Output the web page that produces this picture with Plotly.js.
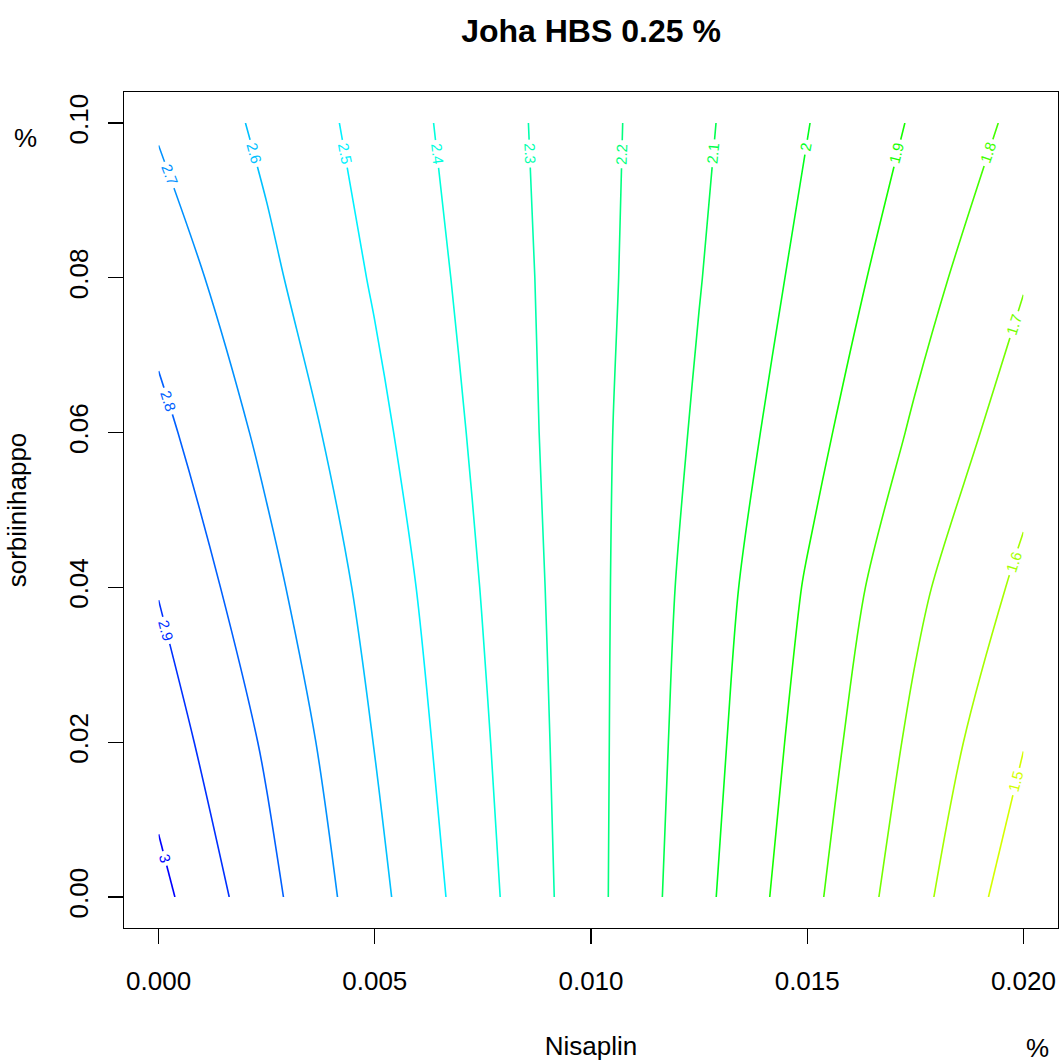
<!DOCTYPE html>
<html>
<head>
<meta charset="utf-8">
<script src="https://cdn.plot.ly/plotly-3.0.1.min.js"></script>
<style>html,body{margin:0;padding:0;background:#fff;}#chart{width:1062px;height:1064px;}</style>
</head>
<body>
<div id="chart"></div>
<script>
// Nisaplin (%) grid positions
const nisaplin = [0, 0.0025, 0.005, 0.0075, 0.01, 0.0125, 0.015, 0.0175, 0.02];
// sorbiinihappo (%) grid positions
const sorbiinihappo = [0, 0.02, 0.04, 0.06, 0.08, 0.1];
// response values, one row per sorbiinihappo value
const row000 = [3.030, 2.831, 2.631, 2.432, 2.232, 2.032, 1.830, 1.634, 1.436];
const row002 = [2.956, 2.786, 2.597, 2.413, 2.231, 2.048, 1.861, 1.677, 1.504];
const row004 = [2.895, 2.729, 2.565, 2.395, 2.230, 2.063, 1.891, 1.722, 1.576];
const row006 = [2.827, 2.676, 2.526, 2.377, 2.229, 2.085, 1.935, 1.786, 1.643];
const row008 = [2.759, 2.621, 2.490, 2.362, 2.233, 2.104, 1.973, 1.841, 1.707];
const row010 = [2.690, 2.578, 2.462, 2.348, 2.234, 2.118, 2.003, 1.889, 1.773];
const levelStart = 1.5, levelEnd = 3.0, levelStep = 0.1;
const xTicks = [0, 0.005, 0.01, 0.015, 0.02];
const yTicks = [0, 0.02, 0.04, 0.06, 0.08, 0.1];
// level colours from 1.5 (first) to 3.0 (last)
const levelColors = ['#D4FF00','#A4FF00','#74FF00','#44FF00','#14FF00','#00FF1C','#00FF4D','#00FF7D',
                     '#00FFAD','#00FFDD','#00F1FF','#00C1FF','#0091FF','#0060FF','#0030FF','#0000FF'];

const zGrid = [row000, row002, row004, row006, row008, row010];
const cscale = levelColors.map((c, i) => [i / (levelColors.length - 1), c]);
const font = 'Liberation Sans, Arial, Helvetica, sans-serif';

// axis ranges and plot size (pixels)
const X0 = -0.0008, X1 = 0.0208, Y0 = -0.004, Y1 = 0.104;
const M = {l: 124, r: 4, t: 92, b: 136};
const plotW = 1062 - M.l - M.r, plotH = 1064 - M.t - M.b;
const sx = plotW / (X1 - X0), sy = plotH / (Y1 - Y0);

// bilinear value of the grid (same linear model the contour uses)
function seg(arr, v) {
  let i = 0;
  while (i < arr.length - 2 && v > arr[i + 1]) i++;
  let t = (v - arr[i]) / (arr[i + 1] - arr[i]);
  t = Math.max(0, Math.min(1, t));
  return [i, t];
}
function zAt(x, y) {
  const [i, tx] = seg(nisaplin, x);
  const [j, ty] = seg(sorbiinihappo, y);
  const a = zGrid[j][i], b = zGrid[j][i + 1], c = zGrid[j + 1][i], d = zGrid[j + 1][i + 1];
  return (a * (1 - tx) + b * tx) * (1 - ty) + (c * (1 - tx) + d * tx) * ty;
}
// gradient in screen pixels (y downward)
function gradPx(x, y) {
  const hx = 1e-6, hy = 5e-6;
  const xa = Math.max(0, x - hx), xb = Math.min(0.02, x + hx);
  const ya = Math.max(0, y - hy), yb = Math.min(0.1, y + hy);
  const gx = (zAt(xb, y) - zAt(xa, y)) / (xb - xa) / sx;
  const gy = -(zAt(x, yb) - zAt(x, ya)) / (yb - ya) / sy;
  return [gx, gy];
}
function edgeCross(vals, coords, lev) {
  for (let k = 0; k < vals.length - 1; k++) {
    const a = vals[k], b = vals[k + 1];
    if (a !== b && (a - lev) * (b - lev) <= 0) return coords[k] + (lev - a) / (b - a) * (coords[k + 1] - coords[k]);
  }
  return null;
}
const col0 = zGrid.map(r => r[0]);
const colN = zGrid.map(r => r[r.length - 1]);

const labelSize = 15;
const labelAnn = [];
const nLev = Math.round((levelEnd - levelStart) / levelStep) + 1;
for (let k = 0; k < nLev; k++) {
  const lev = Math.round((levelStart + k * levelStep) * 10) / 10;
  let x, y;
  const tx = edgeCross(row010, nisaplin, lev);
  if (tx !== null) { x = tx; y = 0.1; }
  else {
    const ly = edgeCross(col0, sorbiinihappo, lev);
    const ry = edgeCross(colN, sorbiinihappo, lev);
    if (ly !== null) { x = 0; y = ly; } else if (ry !== null) { x = 0.02; y = ry; } else continue;
  }
  const text = String(lev);
  const half = 0.5 * labelSize * (text.replace('.', '').length * 0.556 + (text.includes('.') ? 0.278 : 0));
  const D = 20 + half;
  // march along the contour downward
  let px = (x - X0) * sx, py = (Y1 - y) * sy;
  let prev = null, tan = [0, 1];
  for (let s = 0; s < D; s++) {
    const xd = px / sx + X0, yd = Y1 - py / sy;
    const [gx, gy] = gradPx(xd, yd);
    const n = Math.hypot(gx, gy);
    let t = [-gy / n, gx / n];
    if (prev ? (t[0] * prev[0] + t[1] * prev[1] < 0) : t[1] < 0) t = [-t[0], -t[1]];
    prev = t; tan = t;
    px += t[0]; py += t[1];
    const xd2 = px / sx + X0, yd2 = Y1 - py / sy;
    const e = zAt(xd2, yd2) - lev;
    const [g2x, g2y] = gradPx(xd2, yd2);
    const g2 = g2x * g2x + g2y * g2y;
    px -= e * g2x / g2; py -= e * g2y / g2;
  }
  let ang = Math.atan2(tan[1], tan[0]) * 180 / Math.PI;
  if (ang > 90) ang -= 180;
  if (ang <= -90) ang += 180;
  labelAnn.push({
    x: px / sx + X0, y: Y1 - py / sy, xref: 'x', yref: 'y', text: text, textangle: ang,
    showarrow: false, xanchor: 'center', yanchor: 'middle', bgcolor: '#fff', borderpad: 3,
    font: {family: font, size: labelSize, color: levelColors[k]}
  });
}

const trace = {
  type: 'contour',
  x: nisaplin, y: sorbiinihappo, z: zGrid,
  zmin: levelStart, zmax: levelEnd,
  autocontour: false,
  contours: {start: levelStart, end: levelEnd, size: levelStep, coloring: 'lines', showlabels: false},
  colorscale: cscale, showscale: false,
  line: {width: 1.6, smoothing: 0.9},
  hoverinfo: 'skip'
};

const layout = {
  width: 1062, height: 1064,
  margin: M,
  paper_bgcolor: '#fff', plot_bgcolor: '#fff',
  font: {family: font, size: 26, color: '#000'},
  showlegend: false,
  title: {text: '<b>Joha HBS 0.25 %</b>', font: {family: font, size: 32, color: '#000'},
          x: 0.5, xref: 'paper', y: 1 - 31 / 1064, yref: 'container', yanchor: 'middle'},
  xaxis: {range: [X0, X1], tickvals: xTicks, tickformat: '.3f',
          showgrid: false, zeroline: false, showline: true, mirror: true, linecolor: '#000', linewidth: 1.3,
          ticks: 'outside', ticklen: 15, tickwidth: 1.3, tickcolor: '#000', ticklabelstandoff: 14,
          title: {text: 'Nisaplin', standoff: 42, font: {family: font, size: 26}}, automargin: false, fixedrange: true},
  yaxis: {range: [Y0, Y1], tickvals: yTicks, tickformat: '.2f', tickangle: -90,
          showgrid: false, zeroline: false, showline: true, mirror: true, linecolor: '#000', linewidth: 1.3,
          ticks: 'outside', ticklen: 15, tickwidth: 1.3, tickcolor: '#000', ticklabelstandoff: 9,
          title: {text: 'sorbiinihappo', standoff: 30, font: {family: font, size: 26}}, automargin: false, fixedrange: true},
  annotations: labelAnn.concat([
    {text: '%', xref: 'paper', yref: 'paper', x: (1037 - M.l) / plotW, y: (928 - 1048) / plotH,
     xanchor: 'center', yanchor: 'middle', showarrow: false, font: {family: font, size: 26}},
    {text: '%', xref: 'paper', yref: 'paper', x: (25 - M.l) / plotW, y: (928 - 138) / plotH,
     xanchor: 'center', yanchor: 'middle', showarrow: false, font: {family: font, size: 26}}
  ])
};

Plotly.newPlot('chart', [trace], layout, {staticPlot: true, displayModeBar: false});
</script>
</body>
</html>
